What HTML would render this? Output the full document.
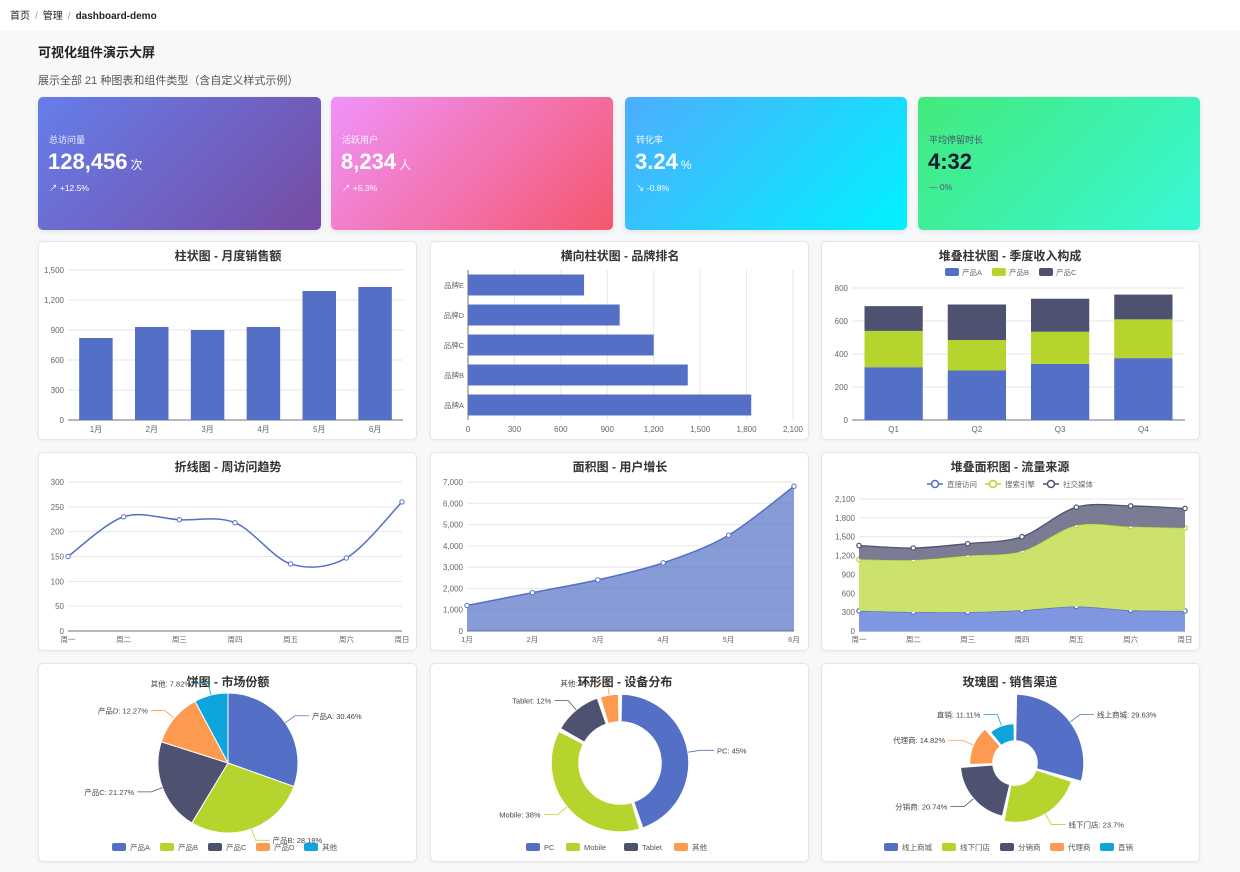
<!DOCTYPE html>
<html><head><meta charset="utf-8">
<style>
*{margin:0;padding:0;box-sizing:border-box}
body{width:1240px;height:872px;background:#f7f8fa;font-family:"Liberation Sans","Noto Sans CJK SC",sans-serif;position:relative;overflow:hidden}
.top{position:absolute;left:0;top:0;width:1240px;height:31px;background:#fff;font-size:10px;color:#222;padding:7px 10px}
.top b{font-weight:bold}
.top span.sep{color:#999;margin:0 5px}
h1{position:absolute;left:38px;top:42px;font-size:13px;font-weight:bold;color:#222}
.sub{position:absolute;left:38px;top:72px;font-size:11px;color:#555}
.card{position:absolute;top:97px;height:133px;border-radius:5px;padding:0 11px;color:#fff;box-shadow:0 2px 6px rgba(0,0,0,.08)}
.card .l{position:absolute;left:11px;top:36px;font-size:9px;opacity:.9}
.card .v{position:absolute;left:10px;top:52px;font-size:22px;font-weight:bold}
.card .v small{font-size:12px;font-weight:normal;margin-left:3px}
.card .t{position:absolute;left:11px;top:85px;font-size:8.5px}
.panel{position:absolute;background:#fff;border:1px solid #e4e6ea;border-radius:5px;box-shadow:0 1px 4px rgba(0,0,0,.05)}
#charts{position:absolute;left:0;top:0}
</style></head><body>
<div class="top"><span>首页</span><span class="sep">/</span><span>管理</span><span class="sep">/</span><b>dashboard-demo</b></div>
<h1>可视化组件演示大屏</h1>
<div class="sub">展示全部 21 种图表和组件类型（含自定义样式示例）</div>

<div class="card" style="left:38px;width:283px;background:linear-gradient(135deg,#667eea,#764ba2)"><div class="l">总访问量</div><div class="v">128,456<small>次</small></div><div class="t">↗ +12.5%</div></div>
<div class="card" style="left:331px;width:282px;background:linear-gradient(135deg,#f093fb,#f5576c)"><div class="l">活跃用户</div><div class="v">8,234<small>人</small></div><div class="t">↗ +5.3%</div></div>
<div class="card" style="left:625px;width:282px;background:linear-gradient(135deg,#4facfe,#00f2fe)"><div class="l">转化率</div><div class="v">3.24<small>%</small></div><div class="t">↘ -0.8%</div></div>
<div class="card" style="left:918px;width:282px;background:linear-gradient(135deg,#43e97b,#38f9d7);color:#1a2a3a"><div class="l" style="color:#446">平均停留时长</div><div class="v" style="color:#111a2e">4:32</div><div class="t" style="color:#557">—  0%</div></div>

<div class="panel" style="left:38px;top:241px;width:379px;height:199px"></div>
<div class="panel" style="left:430px;top:241px;width:379px;height:199px"></div>
<div class="panel" style="left:821px;top:241px;width:379px;height:199px"></div>
<div class="panel" style="left:38px;top:452px;width:379px;height:199px"></div>
<div class="panel" style="left:430px;top:452px;width:379px;height:199px"></div>
<div class="panel" style="left:821px;top:452px;width:379px;height:199px"></div>
<div class="panel" style="left:38px;top:663px;width:379px;height:199px"></div>
<div class="panel" style="left:430px;top:663px;width:379px;height:199px"></div>
<div class="panel" style="left:821px;top:663px;width:379px;height:199px"></div>

<svg id="charts" width="1240" height="872" font-family="Liberation Sans, Noto Sans CJK SC, sans-serif"></svg>
<script>
const barCats=['1月','2月','3月','4月','5月','6月'];
const barVals=[820,930,900,930,1290,1330];
const barTicks=[0,300,600,900,1200,1500];
const brandCats=['品牌A','品牌B','品牌C','品牌D','品牌E'];
const brandVals=[1830,1420,1200,980,750];
const brandTicks=[0,300,600,900,1200,1500,1800,2100];
const qCats=['Q1','Q2','Q3','Q4'];
const qA=[320,300,340,375];
const qB=[220,185,195,235];
const qC=[150,215,200,150];
const qTicks=[0,200,400,600,800];
const weekCats=['周一','周二','周三','周四','周五','周六','周日'];
const lineVals=[150,230,224,218,135,147,260];
const lineTicks=[0,50,100,150,200,250,300];
const userCats=['1月','2月','3月','4月','5月','6月'];
const userVals=[1200,1800,2400,3200,4500,6800];
const userTicks=[0,1000,2000,3000,4000,5000,6000,7000];
const directVals=[320,300,300,330,390,330,320];
const searchVals=[820,830,900,940,1290,1330,1320];
const socialVals=[220,190,190,230,290,330,310];
const trafficTicks=[0,300,600,900,1200,1500,1800,2100];
const pieCats=['产品A','产品B','产品C','产品D','其他'];
const pieVals=[30.46,28.18,21.27,12.27,7.82];
const donutCats=['PC','Mobile','Tablet','其他'];
const donutVals=[45,38,12,5];
const roseCats=['线上商城','线下门店','分销商','代理商','直销'];
const roseVals=[29.63,23.7,20.74,14.82,11.11];

const C=['#5470c6','#b5d52e','#4f5170','#fd9a4f','#0ea5dd'];
let S='';
const T=(x,y,s,o)=>{o=o||{};S+=`<text x="${x}" y="${y}" font-size="${o.fs||8}" fill="${o.c||'#666'}" text-anchor="${o.a||'middle'}" font-weight="${o.w||'normal'}">${s}</text>`;};
const title=(x,y,s)=>T(x,y,s,{n:'chart-title',fs:12,c:'#333',w:'bold'});
function yGrid(x0,x1,y0,y1,ticks){const mx=ticks[ticks.length-1];ticks.forEach(t=>{const y=y1-(t/mx)*(y1-y0);S+=`<line x1="${x0}" x2="${x1}" y1="${y}" y2="${y}" stroke="#e6e6e6"/>`;T(x0-4,y+3,t.toLocaleString('en-US'),{a:'end',n:'y-tick'});});S+=`<line x1="${x0}" x2="${x1}" y1="${y1}" y2="${y1}" stroke="#6e7079"/>`;}
function smooth(p){let d=`M${p[0][0]},${p[0][1]}`;for(let i=0;i<p.length-1;i++){const a=p[i-1]||p[i],b=p[i],c=p[i+1],e=p[i+2]||c;const k=0.16;d+=` C${b[0]+(c[0]-a[0])*k},${b[1]+(c[1]-a[1])*k} ${c[0]-(e[0]-b[0])*k},${c[1]-(e[1]-b[1])*k} ${c[0]},${c[1]}`;}return d;}
function smoothBack(p){return smooth(p.slice().reverse()).replace('M','L');}

// bar chart
title(228,260,'柱状图 - 月度销售额');
(function(){const x0=68,x1=403,y0=270,y1=420,mx=1500;yGrid(x0,x1,y0,y1,barTicks);const w=(x1-x0)/barCats.length;
barCats.forEach((c,i)=>{const h=barVals[i]/mx*(y1-y0);S+=`<rect x="${x0+i*w+w*0.2}" y="${y1-h}" width="${w*0.6}" height="${h}" fill="${C[0]}"/>`;T(x0+i*w+w/2,432,c,{n:'x-tick'});});})();

// horizontal bar
title(620,260,'横向柱状图 - 品牌排名');
(function(){const x0=468,x1=793,y0=270,y1=420,mx=2100;const h=(y1-y0)/brandCats.length;
brandTicks.forEach(t=>{const x=x0+t/mx*(x1-x0);S+=`<line x1="${x}" x2="${x}" y1="${y0}" y2="${y1}" stroke="#e6e6e6"/>`;T(x,432,t.toLocaleString('en-US'),{n:'x-tick'});});
S+=`<line x1="${x0}" x2="${x0}" y1="${y0}" y2="${y1}" stroke="#6e7079"/>`;
brandCats.forEach((c,i)=>{const yc=y1-(i+0.5)*h;const w=brandVals[i]/mx*(x1-x0);S+=`<rect x="${x0}" y="${yc-h*0.35}" width="${w}" height="${h*0.7}" fill="${C[0]}"/>`;T(x0-4,yc+3,c,{a:'end',n:'y-tick',fs:7.5});});})();

// stacked bar
title(1010,260,'堆叠柱状图 - 季度收入构成');
[['产品A',C[0]],['产品B',C[1]],['产品C',C[2]]].forEach((l,i)=>{const x=945+i*47;S+=`<rect x="${x}" y="268" width="14" height="8" rx="2" fill="${l[1]}"/>`;T(x+17,275,l[0],{a:'start',n:'legend-entry',fs:7.5});});
(function(){const x0=852,x1=1185,y0=288,y1=420,mx=800;yGrid(x0,x1,y0,y1,qTicks);const w=(x1-x0)/qCats.length;
qCats.forEach((c,i)=>{let base=0;[qA,qB,qC].forEach((s,j)=>{const h=s[i]/mx*(y1-y0);const yb=y1-base/mx*(y1-y0);S+=`<rect x="${x0+i*w+w*0.15}" y="${yb-h}" width="${w*0.7}" height="${h}" fill="${C[j]}"/>`;base+=s[i];});T(x0+i*w+w/2,432,c,{n:'x-tick'});});})();

// line chart
title(228,471,'折线图 - 周访问趋势');
(function(){const x0=68,x1=402,y0=482,y1=631,mx=300;yGrid(x0,x1,y0,y1,lineTicks);const st=(x1-x0)/(weekCats.length-1);
const p=lineVals.map((v,i)=>[x0+i*st,y1-v/mx*(y1-y0)]);S+=`<path d="${smooth(p)}" fill="none" stroke="${C[0]}" stroke-width="1.5"/>`;
p.forEach((q,i)=>{S+=`<circle cx="${q[0]}" cy="${q[1]}" r="2.2" fill="#fff" stroke="${C[0]}"/>`;T(q[0],642,weekCats[i],{n:'x-tick',fs:7.5});});})();

// area
title(620,471,'面积图 - 用户增长');
(function(){const x0=467,x1=794,y0=482,y1=631,mx=7000;yGrid(x0,x1,y0,y1,userTicks);const st=(x1-x0)/(userCats.length-1);
const p=userVals.map((v,i)=>[x0+i*st,y1-v/mx*(y1-y0)]);const d=smooth(p);
S+=`<path d="${d} L${x1},${y1} L${x0},${y1}Z" fill="${C[0]}" fill-opacity="0.7"/>`;
S+=`<path d="${d}" fill="none" stroke="${C[0]}" stroke-width="1.5"/>`;
p.forEach((q,i)=>{S+=`<circle cx="${q[0]}" cy="${q[1]}" r="2.2" fill="#fff" stroke="${C[0]}"/>`;T(q[0],642,userCats[i],{n:'x-tick',fs:7.5});});})();

// stacked area
title(1010,471,'堆叠面积图 - 流量来源');
[['直接访问',C[0]],['搜索引擎',C[1]],['社交媒体',C[2]]].forEach((l,i)=>{const x=927+i*58;S+=`<line x1="${x}" x2="${x+16}" y1="484" y2="484" stroke="${l[1]}" stroke-width="1.5"/><circle cx="${x+8}" cy="484" r="3.5" fill="#fff" stroke="${l[1]}" stroke-width="1.5"/>`;T(x+20,487,l[0],{a:'start',n:'legend-entry',fs:7.5});});
(function(){const x0=859,x1=1185,y0=499,y1=631,mx=2100;yGrid(x0,x1,y0,y1,trafficTicks);const st=(x1-x0)/(weekCats.length-1);
const cum=[0,0,0,0,0,0,0];const cols=['#7f97e0','#cce26c','#7a7c93'];
[directVals,searchVals,socialVals].forEach((s,j)=>{const lower=cum.map((v,i)=>[x0+i*st,y1-v/mx*(y1-y0)]);s.forEach((v,i)=>cum[i]+=v);const upper=cum.map((v,i)=>[x0+i*st,y1-v/mx*(y1-y0)]);
S+=`<path d="${smooth(upper)} ${smoothBack(lower)}Z" fill="${cols[j]}"/>`;
S+=`<path d="${smooth(upper)}" fill="none" stroke="${C[j]}" stroke-width="1.3"/>`;
upper.forEach(q=>{S+=`<circle cx="${q[0]}" cy="${q[1]}" r="2.2" fill="#fff" stroke="${C[j]}" stroke-width="1.2"/>`;});});
weekCats.forEach((c,i)=>T(x0+i*st,642,c,{n:'x-tick',fs:7.5}));})();

// polar helpers
const pt=(cx,cy,r,a)=>[cx+r*Math.sin(a),cy-r*Math.cos(a)];
function sector(cx,cy,r0,r1,a0,a1){const L=a1-a0>Math.PI?1:0;const p1=pt(cx,cy,r1,a0),p2=pt(cx,cy,r1,a1);
if(r0<=0)return `M${cx},${cy} L${p1} A${r1},${r1} 0 ${L} 1 ${p2}Z`;const p3=pt(cx,cy,r0,a1),p4=pt(cx,cy,r0,a0);return `M${p1} A${r1},${r1} 0 ${L} 1 ${p2} L${p3} A${r0},${r0} 0 ${L} 0 ${p4}Z`;}
function labelLine(cx,cy,r,a,text,col){const p1=pt(cx,cy,r,a),p2=pt(cx,cy,r+12,a);const right=Math.sin(a)>=0;const x3=p2[0]+(right?14:-14);
S+=`<polyline points="${p1} ${p2} ${x3},${p2[1]}" fill="none" stroke="${col}" stroke-width="0.8"/>`;T(x3+(right?3:-3),p2[1]+3,text,{a:right?'start':'end',n:'slice-label',fs:7.5,c:'#444'});}
function legend(cats,y,cx,widths){let tot=widths.reduce((a,b)=>a+b,0);let x=cx-tot/2;cats.forEach((c,i)=>{S+=`<rect x="${x}" y="${y-6}" width="14" height="8" rx="2" fill="${C[i]}"/>`;T(x+18,y+1,c,{a:'start',n:'legend-entry',fs:7.5,c:'#555'});x+=widths[i];});}

// pie
title(228,686,'饼图 - 市场份额');
(function(){const cx=228,cy=763,r=70,tot=pieVals.reduce((a,b)=>a+b,0);let a=0;
pieVals.forEach((v,i)=>{const a1=a+v/tot*2*Math.PI;S+=`<path d="${sector(cx,cy,0,r,a,a1)}" fill="${C[i]}" stroke="#fff" stroke-width="1"/>`;labelLine(cx,cy,r,(a+a1)/2,pieCats[i]+': '+v+'%',C[i]);a=a1;});
legend(pieCats,849,228,[48,48,48,48,40]);})();

// donut
(function(){const cx=620,cy=763,r0=41,r1=69,tot=donutVals.reduce((a,b)=>a+b,0);let a=0;const pad=0.04;
donutVals.forEach((v,i)=>{const a1=a+v/tot*2*Math.PI;S+=`<path d="${sector(cx,cy,r0,r1,a+pad/2,a1-pad/2)}" fill="${C[i]}" stroke="#fff" stroke-width="1.5" stroke-linejoin="round"/>`;labelLine(cx,cy,r1,(a+a1)/2,donutCats[i]+': '+v+'%',C[i]);a=a1;});
legend(donutCats,849,620,[40,58,50,40]);})();
title(625,686,'环形图 - 设备分布');

// rose
title(1010,686,'玫瑰图 - 销售渠道');
(function(){const cx=1015,cy=763,rin=22,rmax=69,tot=roseVals.reduce((a,b)=>a+b,0),mx=Math.max(...roseVals);let a=0;const pad=0.04;
roseVals.forEach((v,i)=>{const a1=a+v/tot*2*Math.PI;const r=rin+(v/mx)*(rmax-rin);S+=`<path d="${sector(cx,cy,rin,r,a+pad/2,a1-pad/2)}" fill="${C[i]}" stroke="#fff" stroke-width="1.5"/>`;labelLine(cx,cy,r,(a+a1)/2,roseCats[i]+': '+v+'%',C[i]);a=a1;});
legend(roseCats,849,1010,[58,58,50,50,36]);})();

document.getElementById('charts').innerHTML=S;
</script>
</body></html>
